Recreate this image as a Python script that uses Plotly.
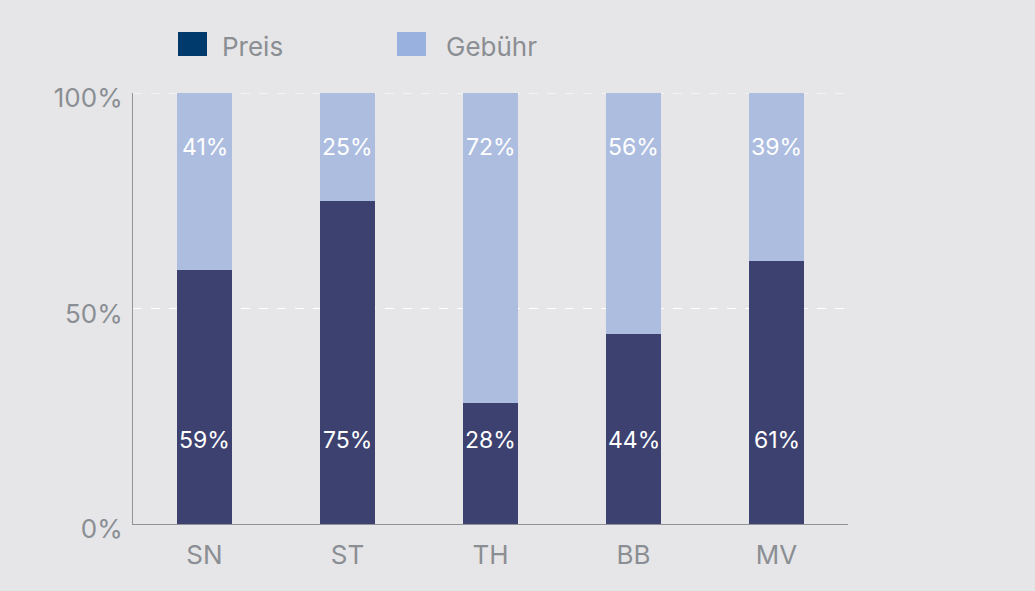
import plotly.graph_objects as go

states = ["SN", "ST", "TH", "BB", "MV"]
preis = [59, 75, 28, 44, 61]
gebuehr = [41, 25, 72, 56, 39]
series_names = ["Preis", "Gebühr"]
y_ticks = [0, 50, 100]
y_tick_labels = ["0%", "50%", "100%"]

BG = "#e6e6e9"
DARK = "#3c4170"
LIGHT = "#adbde0"
GRAY = "#8b8e92"
FONT = "Inter, Roboto, Arial, sans-serif"

fig = go.Figure()
fig.add_trace(go.Bar(x=states, y=preis, marker_color=DARK, marker_line_width=0,
                     width=0.378, showlegend=False, hoverinfo="skip"))
fig.add_trace(go.Bar(x=states, y=gebuehr, marker_color=LIGHT, marker_line_width=0,
                     width=0.378, showlegend=False, hoverinfo="skip"))

# value labels
for s, p, g in zip(states, preis, gebuehr):
    fig.add_annotation(x=s, y=19.5, text=f"{p}%", showarrow=False,
                       font=dict(family=FONT, size=23, color="white"))
    fig.add_annotation(x=s, y=87.5, text=f"{g}%", showarrow=False,
                       font=dict(family=FONT, size=23, color="white"))

# dashed top gridline
fig.add_shape(type="line", xref="paper", yref="y", x0=0, x1=1, y0=100, y1=100,
              line=dict(color="white", width=1, dash="dash"), layer="below")

# legend drawn manually
legend_items = [(series_names[0], "#003a6c", 178, 220), (series_names[1], "#98b1de", 397, 444)]
W, H = 1035, 591
for name, col, x0, tx in legend_items:
    fig.add_shape(type="rect", xref="paper", yref="paper",
                  x0=(x0 - 133) / 715, x1=(x0 + 29 - 133) / 715,
                  y0=(524 - 56) / 431, y1=(524 - 32) / 431,
                  fillcolor=col, line_width=0)
    fig.add_annotation(xref="paper", yref="paper", x=(tx - 133) / 715, y=(524 - 47) / 431,
                       text=name, showarrow=False, xanchor="left", yanchor="middle",
                       font=dict(family=FONT, size=26, color=GRAY))

fig.update_layout(
    width=W, height=H,
    margin=dict(l=133, r=187, t=93, b=67),
    paper_bgcolor=BG, plot_bgcolor=BG,
    barmode="stack",
    showlegend=False,
    xaxis=dict(range=[-0.5, 4.5], showgrid=False, showline=True, linecolor="#8f9296",
               linewidth=1.2, ticks="", tickfont=dict(family=FONT, size=26, color=GRAY),
               ticklabelstandoff=8, zeroline=False),
    yaxis=dict(range=[0, 100], tickvals=y_ticks, ticktext=y_tick_labels,
               showline=True, linecolor="#8f9296", linewidth=1.2,
               showgrid=True, gridcolor="white", griddash="dash", gridwidth=1,
               zeroline=False, ticks="", ticklabelstandoff=4, ticklabelshift=5,
               tickfont=dict(family=FONT, size=26, color=GRAY)),
)

fig.write_html("out.html")
